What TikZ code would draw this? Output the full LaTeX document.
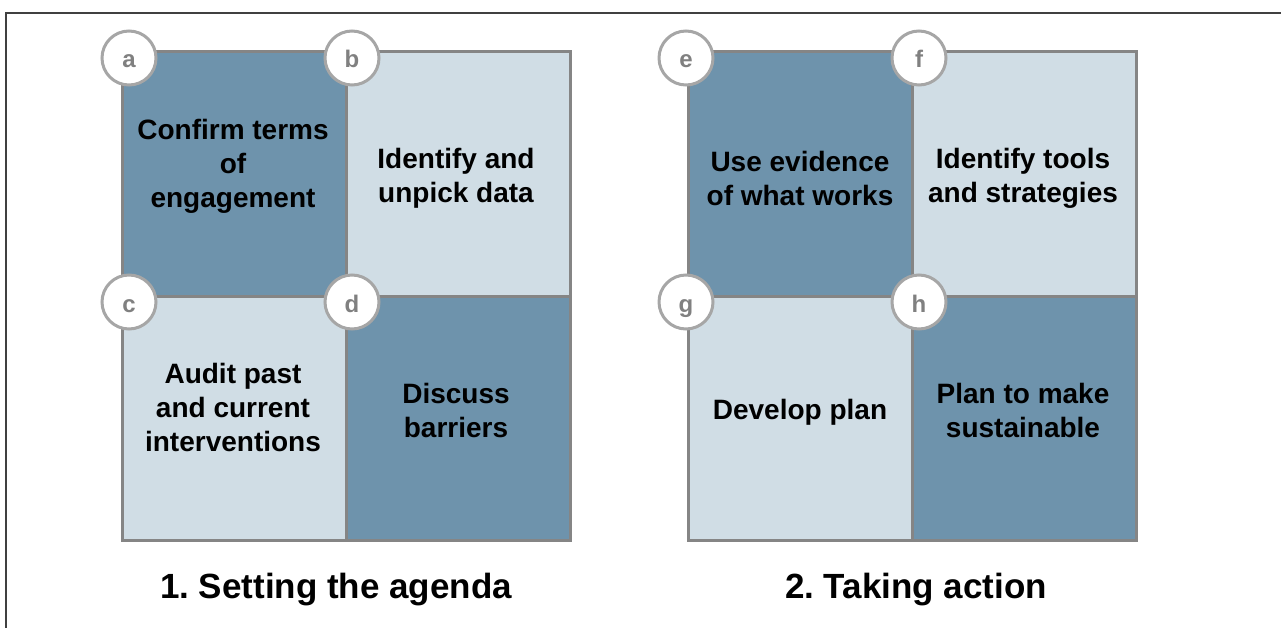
\documentclass[tikz,border=0pt]{standalone}
\usepackage{fontspec}
\setmainfont{Liberation Sans}
\frenchspacing
\begin{document}
\begin{tikzpicture}[x=1pt,y=-1pt,
  cell/.style={draw=gridgray,line width=3pt,minimum width=224pt,minimum height=244pt,inner sep=0pt},
  darkcell/.style={cell,fill=darkblue},
  lightcell/.style={cell,fill=lightblue},
  label/.style={font=\fontsize{28}{34}\selectfont\bfseries,align=center,text=black},
  badge/.style={circle,draw=circgray,line width=3pt,fill=white,minimum size=54pt,inner sep=0pt,text height=20pt,text depth=0pt,font=\bfseries\fontsize{24}{24}\selectfont,text=lettergray},
  heading/.style={font=\fontsize{35}{40}\selectfont\bfseries,text=black}]
\definecolor{darkblue}{HTML}{6E93AC}
\definecolor{lightblue}{HTML}{D0DDE5}
\definecolor{gridgray}{HTML}{858585}
\definecolor{circgray}{HTML}{A6A6A6}
\definecolor{lettergray}{HTML}{808080}
\definecolor{framegray}{HTML}{404040}
\useasboundingbox (0,0) rectangle (1281,628);
\draw[framegray,line width=2pt] (6,628) -- (6,13) -- (1281,13);
% left grid
\node[darkcell]  (A) at (234,174) {};
\node[lightcell] (B) at (458,174) {};
\node[lightcell] (C) at (234,418) {};
\node[darkcell]  (D) at (458,418) {};
% right grid
\node[darkcell]  (E) at (800,174) {};
\node[lightcell] (F) at (1024,174) {};
\node[lightcell] (G) at (800,418) {};
\node[darkcell]  (H) at (1024,418) {};
% texts
\node[label] (tA) at (233,166) {Confirm terms\\of\\engagement};
\node[label] (tB) at (456,178) {Identify and\\unpick data};
\node[label] (tC) at (233,407) {Audit past\\and current\\interventions};
\node[label] (tD) at (456,410) {Discuss\\barriers};
\node[label] (tE) at (800,178) {Use evidence\\of what works};
\node[label] (tF) at (1023,178) {Identify tools\\and strategies};
\node[label] (tG) at (800,412) {Develop plan};
\node[label] (tH) at (1023,410) {Plan to make\\sustainable};
% badges
\node[badge] (a) at (129,58) {a};
\node[badge] (b) at (352,58) {b};
\node[badge] (c) at (129,302) {c};
\node[badge] (d) at (352,302) {d};
\node[badge] (e) at (686,58) {e};
\node[badge] (f) at (919,58) {f};
\node[badge] (g) at (686,302) {g};
\node[badge] (h) at (919,302) {h};
% headings
\node[heading] (h1) at (336,590) {1. Setting the agenda};
\node[heading] (h2) at (916,590) {2. Taking action};
\end{tikzpicture}
\end{document}
